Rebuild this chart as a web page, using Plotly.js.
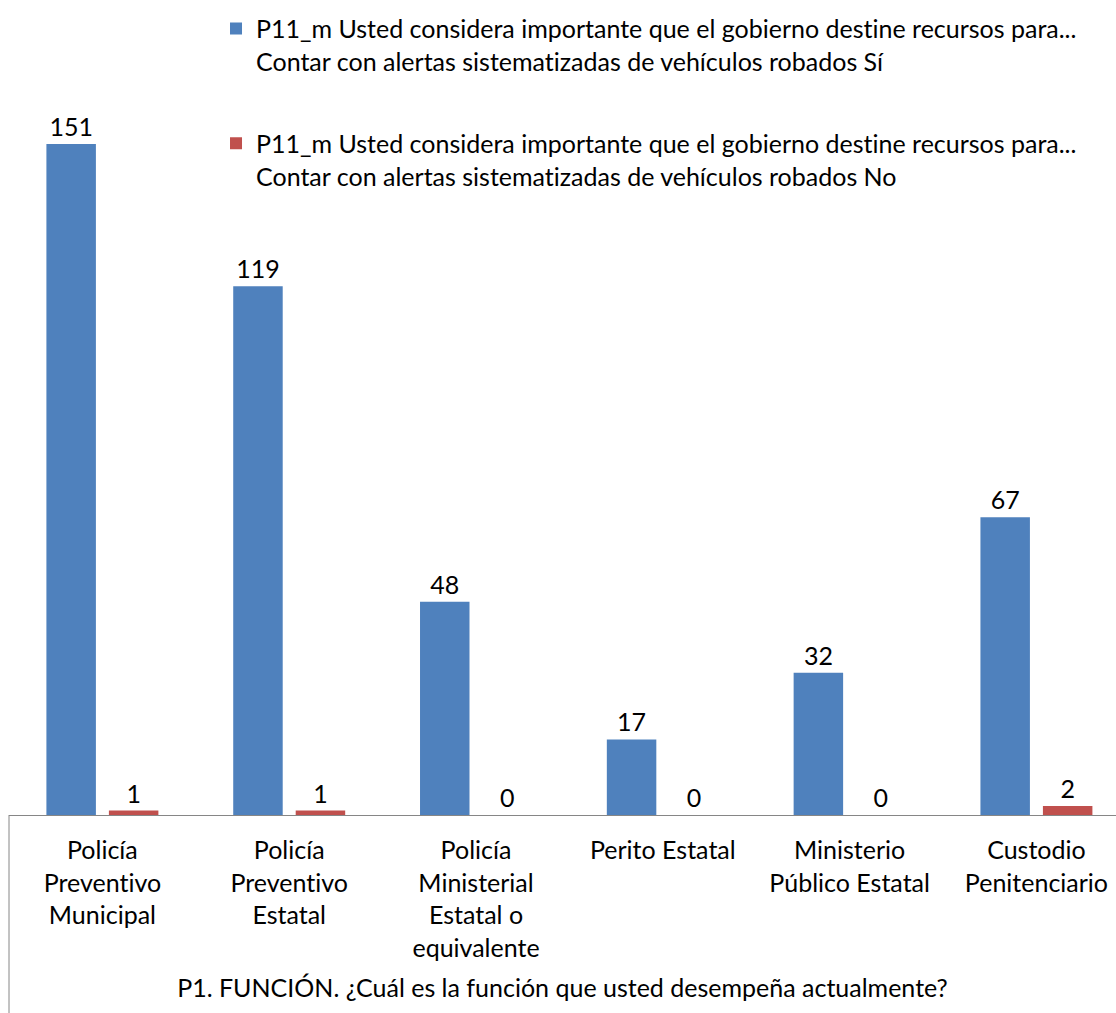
<!DOCTYPE html>
<html>
<head>
<meta charset="utf-8">
<script src="https://cdn.plot.ly/plotly-3.0.1.min.js"></script>
<style>
html,body{margin:0;padding:0;background:#fff;overflow:hidden}
svg text{font-variant-ligatures:none;font-feature-settings:"liga" 0,"clig" 0}
</style>
</head>
<body>
<div id="chart" style="width:1116px;height:1013px"></div>
<script>
const categories = [
  "Policía<br>Preventivo<br>Municipal",
  "Policía<br>Preventivo<br>Estatal",
  "Policía<br>Ministerial<br>Estatal o<br>equivalente",
  "Perito Estatal",
  "Ministerio<br>Público Estatal",
  "Custodio<br>Penitenciario"
];
const valuesSi = [151, 119, 48, 17, 32, 67];
const valuesNo = [1, 1, 0, 0, 0, 2];
const nameSi = "P11_m Usted considera importante que el gobierno destine recursos para...<br>Contar con alertas sistematizadas de vehículos robados Sí";
const nameNo = "P11_m Usted considera importante que el gobierno destine recursos para...<br>Contar con alertas sistematizadas de vehículos robados No";
const axisTitle = "P1. FUNCIÓN. ¿Cuál es la función que usted desempeña actualmente?";

const FONT = "Lato, Carlito, 'Noto Sans', sans-serif";
const FS = 25;

const traces = [
  {
    type: "bar", x: categories, y: valuesSi, name: nameSi,
    marker: {color: "#4F81BD"},
    text: valuesSi.map(String), textposition: "outside", cliponaxis: false,
    textfont: {family: FONT, size: FS, color: "#000"},
    legend: "legend", hoverinfo: "x+y"
  },
  {
    type: "bar", x: categories, y: valuesNo, name: nameNo,
    marker: {color: "#C0504D"},
    text: valuesNo.map(String), textposition: "outside", cliponaxis: false,
    textfont: {family: FONT, size: FS, color: "#000"},
    legend: "legend2", hoverinfo: "x+y"
  }
];

const layout = {
  width: 1116, height: 1013,
  margin: {l: 9, r: 0, t: 110, b: 198, pad: 0},
  paper_bgcolor: "#fff", plot_bgcolor: "#fff",
  font: {family: FONT, size: FS, color: "#000"},
  barmode: "group", bargap: 0.331, bargroupgap: 0.208,
  xaxis: {
    type: "category", range: [-0.5, 5.426],
    showline: true, linecolor: "#868686", linewidth: 1,
    ticks: "", showgrid: false, zeroline: false,
    tickfont: {family: FONT, size: FS, color: "#000"},
    ticklabelstandoff: 13,
    title: {text: axisTitle, font: {family: FONT, size: FS, color: "#000"}, standoff: 18},
    fixedrange: true
  },
  yaxis: {
    range: [0, 158.65], visible: false, showgrid: false, zeroline: false, fixedrange: true
  },
  showlegend: true,
  legend: {
    x: 0.187, y: 1.148, xanchor: "left", yanchor: "top",
    font: {family: FONT, size: FS, color: "#000"}, valign: "top",
    bgcolor: "rgba(0,0,0,0)", itemclick: false, itemdoubleclick: false
  },
  legend2: {
    x: 0.187, y: 0.985, xanchor: "left", yanchor: "top",
    font: {family: FONT, size: FS, color: "#000"}, valign: "top",
    bgcolor: "rgba(0,0,0,0)", itemclick: false, itemdoubleclick: false
  },
  shapes: [
    {type: "line", xref: "paper", yref: "paper", x0: 0, x1: 0, y0: 0, y1: -0.285,
     line: {color: "#868686", width: 1}}
  ]
};

Plotly.newPlot("chart", traces, layout, {displayModeBar: false, responsive: false});
</script>
</body>
</html>
